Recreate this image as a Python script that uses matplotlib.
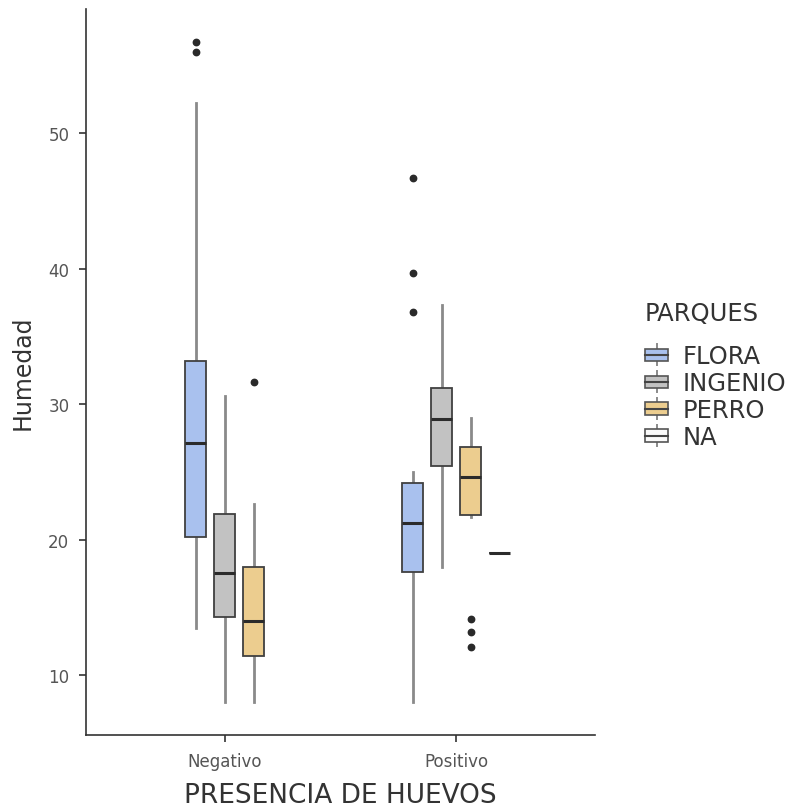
import matplotlib
matplotlib.use("Agg")
import matplotlib.pyplot as plt
from matplotlib.patches import Rectangle, Patch
from matplotlib.lines import Line2D
from matplotlib.legend_handler import HandlerBase

# Humedad por presencia de huevos y parque
grupos = ["Negativo", "Positivo"]
parques = ["FLORA", "INGENIO", "PERRO", "NA"]
colores = {"FLORA": "#a9c1ee", "INGENIO": "#c2c2c2", "PERRO": "#eccd8f", "NA": "#fafafa"}

# Negativo: FLORA, INGENIO, PERRO
neg_parques = ["FLORA", "INGENIO", "PERRO"]
neg_lo = [13.5, 8.0, 8.0]
neg_q1 = [20.2, 14.3, 11.4]
neg_med = [27.1, 17.5, 14.0]
neg_q3 = [33.2, 21.9, 18.0]
neg_hi = [52.2, 30.6, 22.6]
neg_out = [[56.7, 56.0], [], [31.6]]

# Positivo: FLORA, INGENIO, PERRO, NA
pos_parques = ["FLORA", "INGENIO", "PERRO", "NA"]
pos_lo = [8.0, 18.0, 21.7, 19.0]
pos_q1 = [17.6, 25.4, 21.8, 19.0]
pos_med = [21.2, 28.9, 24.6, 19.0]
pos_q3 = [24.2, 31.2, 26.8, 19.0]
pos_hi = [25.0, 37.3, 29.0, 19.0]
pos_out = [[46.7, 39.7, 36.8], [], [14.1, 13.2, 12.1], []]

EDGE = "#404040"
WHISK = "#8a8a8a"
DOT = "#2a2a2a"


def make_stats(lo, q1, med, q3, hi, out):
    return [dict(whislo=a, q1=b, med=c, q3=d, whishi=e, fliers=f)
            for a, b, c, d, e, f in zip(lo, q1, med, q3, hi, out)]


fig = plt.figure(figsize=(7.94, 8.12), dpi=100)
ax = fig.add_axes([86 / 794, 76 / 812, (595 - 86) / 794, (736 - 10) / 812])

step = 0.125
ancho = 0.09
datos = [
    (1, neg_parques, make_stats(neg_lo, neg_q1, neg_med, neg_q3, neg_hi, neg_out)),
    (2, pos_parques, make_stats(pos_lo, pos_q1, pos_med, pos_q3, pos_hi, pos_out)),
]
for xc, nombres, stats in datos:
    n = len(nombres)
    pos = [xc + (i - (n - 1) / 2) * step for i in range(n)]
    res = ax.bxp(stats, positions=pos, widths=ancho, patch_artist=True,
                 showcaps=False, manage_ticks=False,
                 boxprops=dict(edgecolor=EDGE, linewidth=1.3),
                 whiskerprops=dict(color=WHISK, linewidth=2.0),
                 medianprops=dict(color="#2b2b2b", linewidth=2.2),
                 flierprops=dict(marker="o", markerfacecolor=DOT, markeredgecolor=DOT,
                                 markersize=4.6, linestyle="none"))
    for caja, nombre in zip(res["boxes"], nombres):
        caja.set_facecolor(colores[nombre])
    for caja in res["boxes"]:
        caja.set_zorder(3)
    for m in res["medians"]:
        m.set_zorder(4)

ax.set_xlim(0.4, 2.6)
ax.set_ylim(5.57, 59.17)
ax.set_xticks([1, 2])
ax.set_xticklabels(grupos)
ax.set_yticks([10, 20, 30, 40, 50])

for s in ["top", "right"]:
    ax.spines[s].set_visible(False)
for s in ["left", "bottom"]:
    ax.spines[s].set_color("#333333")
    ax.spines[s].set_linewidth(1.2)
ax.tick_params(axis="both", length=5, width=1.2, color="#333333",
               labelcolor="#555555", labelsize=12, pad=7)

ax.set_xlabel("PRESENCIA DE HUEVOS", fontsize=19, color="#333333", labelpad=9)
ax.set_ylabel("Humedad", fontsize=17, color="#333333", labelpad=10)


class BoxHandler(HandlerBase):
    def create_artists(self, legend, orig_handle, xdescent, ydescent,
                       width, height, fontsize, trans):
        x0, y0 = -xdescent, -ydescent
        cx = x0 + width / 2
        fc = orig_handle.get_facecolor()
        caja = Rectangle((x0, y0 + 0.2 * height), width, 0.6 * height,
                         facecolor=fc, edgecolor="#555555", linewidth=1.2, transform=trans)
        med = Line2D([x0, x0 + width], [y0 + height / 2] * 2, color="#444444",
                     linewidth=1.5, transform=trans)
        w1 = Line2D([cx, cx], [y0, y0 + 0.2 * height], color=WHISK, linewidth=1.4,
                    transform=trans)
        w2 = Line2D([cx, cx], [y0 + 0.8 * height, y0 + height], color=WHISK,
                    linewidth=1.4, transform=trans)
        return [w1, w2, caja, med]


handles = [Patch(facecolor=colores[p]) for p in parques]
leg = fig.legend(handles, parques, loc="center left", bbox_to_anchor=(0.797, 0.537),
                 title="PARQUES", frameon=False, fontsize=17.5, title_fontsize=17.5,
                 handler_map={Patch: BoxHandler()}, handlelength=0.95, handleheight=0.95,
                 handletextpad=0.6, labelspacing=0.12, borderpad=0)
leg._legend_box.align = "left"
leg._legend_box.sep = 14
for t in leg.get_texts():
    t.set_color("#333333")
leg.get_title().set_color("#333333")

fig.savefig("out.png", dpi=100)
